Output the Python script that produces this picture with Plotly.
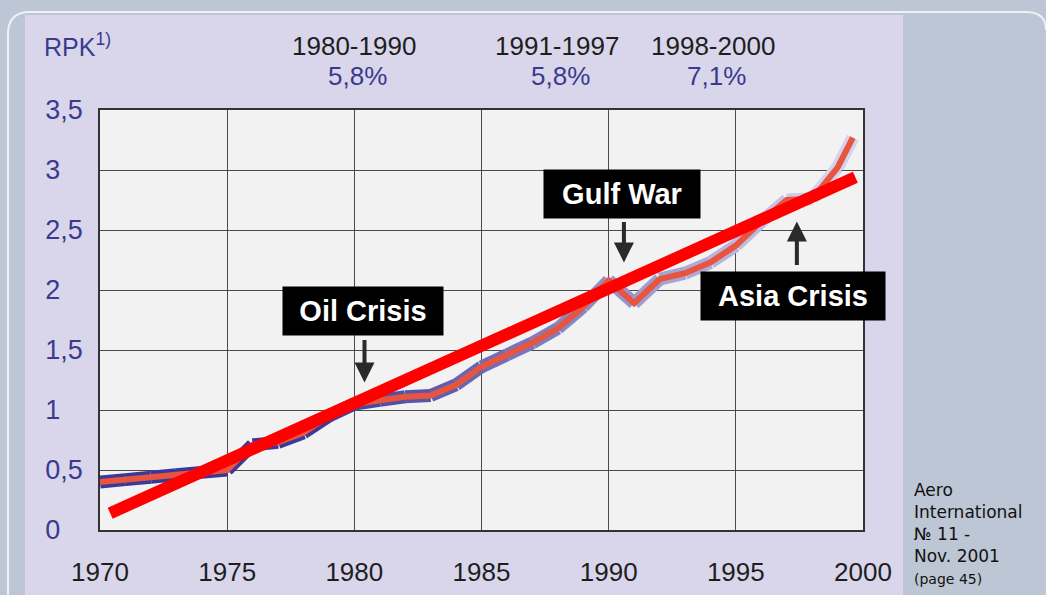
import plotly.graph_objects as go

# ---------------- data ----------------
years = [1970, 1971, 1972, 1973, 1974, 1975, 1976, 1977, 1978, 1979,
         1980, 1981, 1982, 1983, 1984, 1985, 1986, 1987, 1988, 1989,
         1990, 1991, 1992, 1993, 1994, 1995, 1996, 1997, 1998, 1999, 1999.6]
rpk = [0.40, 0.42, 0.44, 0.46, 0.48, 0.50, 0.71, 0.73, 0.81, 0.95,
       1.05, 1.08, 1.11, 1.12, 1.21, 1.36, 1.46, 1.56, 1.68, 1.86,
       2.08, 1.89, 2.09, 2.14, 2.23, 2.37, 2.57, 2.75, 2.76, 3.02, 3.27]

trend_years = [1970.4, 1999.7]
trend_vals = [0.14, 2.94]

x_ticks = [1970, 1975, 1980, 1985, 1990, 1995, 2000]
x_tick_text = ["1970", "1975", "1980", "1985", "1990", "1995", "2000"]
y_ticks = [0, 0.5, 1, 1.5, 2, 2.5, 3, 3.5]
NB = "\u00a0\u00a0\u00a0"
y_tick_text = ["0" + NB, "0,5", "1" + NB, "1,5", "2" + NB, "2,5", "3" + NB, "3,5"]

periods = ["1980-1990", "1991-1997", "1998-2000"]
growth = ["5,8%", "5,8%", "7,1%"]

events = ["Oil Crisis", "Gulf War", "Asia Crisis"]

# ---------------- geometry helpers (pixels -> paper) ----------------
W, H = 1046, 595
L, R, T, B = 100, 863, 110, 530


def fx(px):
    return (px - L) / (R - L)


def fy(py):
    return (B - py) / (B - T)


FONT = "Liberation Sans, Arial, Helvetica, sans-serif"
BLUE_TXT = "#3b3a8e"
LAVENDER = "#d9d6ec"
FRAME = "#bcc6d4"

fig = go.Figure()

# outline of the RPK line, colour fading from dark blue to pale lavender
c0 = (58, 56, 154)
c1 = (214, 210, 238)
for i in range(len(years) - 1):
    t = min(1.0, max(0.0, (years[i] - 1978) / 20.0))
    col = tuple(int(c0[k] + (c1[k] - c0[k]) * t) for k in range(3))
    fig.add_trace(go.Scatter(
        x=years[i:i + 2], y=rpk[i:i + 2], mode="lines",
        line=dict(color="rgb(%d,%d,%d)" % col, width=13),
        hoverinfo="skip", showlegend=False))

# RPK line (red core)
fig.add_trace(go.Scatter(
    x=years, y=rpk, mode="lines",
    line=dict(color="#e8553f", width=6),
    name="RPK", showlegend=False))

# trend line
fig.add_trace(go.Scatter(
    x=trend_years, y=trend_vals, mode="lines",
    line=dict(color="#ff0000", width=12),
    name="Trend", showlegend=False))

shapes = [
    # grey-blue frame around the lavender sheet
    dict(type="rect", xref="paper", yref="paper",
         x0=fx(903), x1=fx(1050), y0=fy(600), y1=fy(-5),
         fillcolor=FRAME, line=dict(width=0), layer="below"),
    dict(type="rect", xref="paper", yref="paper",
         x0=fx(-5), x1=fx(1050), y0=fy(15), y1=fy(-5),
         fillcolor=FRAME, line=dict(width=0), layer="below"),
    dict(type="rect", xref="paper", yref="paper",
         x0=fx(-5), x1=fx(25), y0=fy(600), y1=fy(-5),
         fillcolor=FRAME, line=dict(width=0), layer="below"),
    # rounded panel border
    dict(type="path", xref="paper", yref="paper", layer="below",
         path=("M %f,%f L %f,%f Q %f,%f %f,%f L %f,%f Q %f,%f %f,%f" % (
             fx(8), fy(600), fx(8), fy(34), fx(8), fy(12), fx(30), fy(12),
             fx(1026), fy(12), fx(1046), fy(12), fx(1046), fy(30))),
         line=dict(color="#eef1f5", width=2)),
]

annotations = []

# header
annotations.append(dict(
    xref="paper", yref="paper", x=fx(42), y=fy(45), xanchor="left", yanchor="middle",
    text="RPK<sup>1)</sup>", showarrow=False,
    font=dict(family=FONT, size=25, color=BLUE_TXT)))
for cx, p, g in zip([354, 557, 713], periods, growth):
    annotations.append(dict(
        xref="paper", yref="paper", x=fx(cx), y=fy(46), xanchor="center", yanchor="middle",
        text=p, showarrow=False, font=dict(family=FONT, size=26, color="#1e1e1e")))
    annotations.append(dict(
        xref="paper", yref="paper", x=fx(cx + 3), y=fy(76), xanchor="center", yanchor="middle",
        text=g, showarrow=False, font=dict(family=FONT, size=26, color=BLUE_TXT)))

# event boxes (data coordinates)
box_pos = [(1980.34, 1.825, 150), (1990.53, 2.80, 146), (1997.25, 1.95, 174)]
for (bx, by, bw), ev in zip(box_pos, events):
    annotations.append(dict(
        x=bx, y=by, xref="x", yref="y", text="<b>%s</b>" % ev, showarrow=False,
        font=dict(family=FONT, size=29, color="white"),
        bgcolor="black", width=bw, height=38, borderpad=5, align="center"))

# arrows
arrow_pos = [(1980.4, 1.23, -44), (1990.6, 2.23, -42), (1997.4, 2.57, 45)]
for ax_, ay_, off in arrow_pos:
    annotations.append(dict(
        x=ax_, y=ay_, xref="x", yref="y", ax=0, ay=off, text="",
        showarrow=True, arrowhead=2, arrowsize=1.0, arrowwidth=4,
        arrowcolor="#2a2a2a"))

# source note
annotations.append(dict(
    xref="paper", yref="paper", x=fx(912), y=fy(478), xanchor="left", yanchor="top",
    align="left", showarrow=False,
    text="Aero<br>International<br>№ 11 -<br>Nov. 2001<br><span style='font-size:14px'>(page 45)</span>",
    font=dict(family="DejaVu Sans, Verdana, sans-serif", size=17, color="#111111")))

fig.update_layout(
    width=W, height=H, autosize=False,
    margin=dict(l=L, r=W - R, t=T, b=H - B, pad=0),
    paper_bgcolor=LAVENDER,
    plot_bgcolor="#f2f2f2",
    shapes=shapes,
    annotations=annotations,
    showlegend=False,
)

fig.update_xaxes(
    range=[1970, 2000], tickvals=x_ticks, ticktext=x_tick_text,
    showgrid=True, gridcolor="#4a4a4a", gridwidth=1,
    showline=True, linecolor="#333333", linewidth=1.5, mirror=True,
    zeroline=False, ticks="", ticklabelstandoff=18, automargin=False,
    tickfont=dict(family=FONT, size=26, color="#1e1e1e"))
fig.update_yaxes(
    range=[0, 3.5], tickvals=y_ticks, ticktext=y_tick_text,
    showgrid=True, gridcolor="#4a4a4a", gridwidth=1,
    showline=True, linecolor="#333333", linewidth=1.5, mirror=True,
    zeroline=False, ticks="", ticklabelstandoff=10, automargin=False,
    tickfont=dict(family=FONT, size=27, color=BLUE_TXT))

fig.write_html(
    "out.html",
    config={"displayModeBar": False},
    post_script="document.body.style.margin='0px';document.body.style.background='%s';" % FRAME,
)
